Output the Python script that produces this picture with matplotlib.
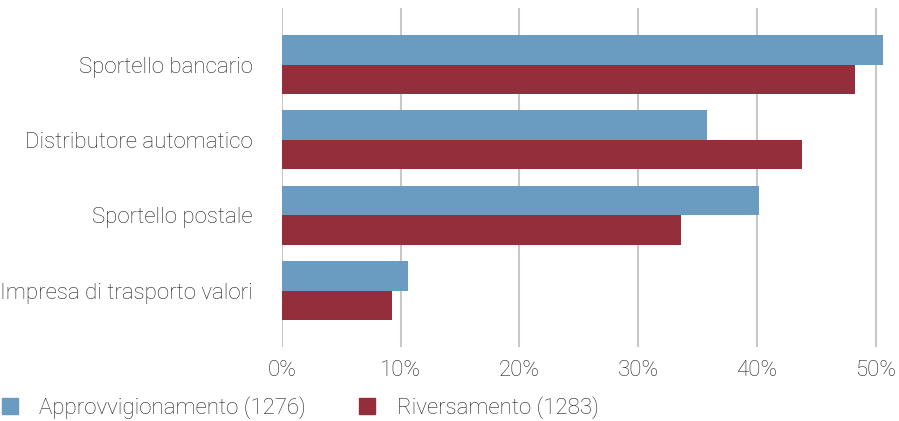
import matplotlib
matplotlib.use("Agg")
import matplotlib.pyplot as plt
from matplotlib.patches import Patch
import numpy as np

categories = ["Sportello bancario", "Distributore automatico",
              "Sportello postale", "Impresa di trasporto valori"]
approvvigionamento = [50.6, 35.8, 40.2, 10.6]
riversamento = [48.3, 43.8, 33.6, 9.3]
series_labels = ["Approvvigionamento (1276)", "Riversamento (1283)"]
xticks = [0, 10, 20, 30, 40, 50]

blue = "#6a9bc0"
red = "#952e3b"
text_col = "#222222"
grid_col = "#c8c8c8"

plt.rcParams['font.family'] = ['Roboto', 'DejaVu Sans']
plt.rcParams['font.weight'] = 'light'

fig = plt.figure(figsize=(8.99, 4.21), dpi=100)
ax = fig.add_axes([282 / 899, 74 / 421, 617 / 899, 339 / 421])

y = np.arange(len(categories))
h = 0.39
ax.barh(y - h / 2, approvvigionamento, height=h, color=blue, zorder=2)
ax.barh(y + h / 2, riversamento, height=h, color=red, zorder=2)

ax.set_ylim(3.75, -0.75)
ax.set_xlim(0, 617 / 11.87)
ax.set_yticks(y)
ax.set_yticklabels(categories, fontsize=16, color=text_col)
ax.set_xticks(xticks)
ax.set_xticklabels([f"{t}%" for t in xticks], fontsize=16, color=text_col)
ax.tick_params(axis='both', length=0)
ax.tick_params(axis='y', pad=21)
ax.tick_params(axis='x', pad=9)
ax.xaxis.grid(True, color=grid_col, linewidth=1.5, zorder=0)
ax.set_axisbelow(True)
for s in ax.spines.values():
    s.set_visible(False)

handles = [Patch(color=blue), Patch(color=red)]
fig.legend(handles, series_labels, loc='lower left', bbox_to_anchor=(0, 0.0),
           ncol=2, frameon=False, fontsize=16, labelcolor=text_col,
           handlelength=0.72, handleheight=0.72, handletextpad=0.95,
           columnspacing=2.4, borderpad=0.1, borderaxespad=0)

fig.savefig("out.png", dpi=100)
